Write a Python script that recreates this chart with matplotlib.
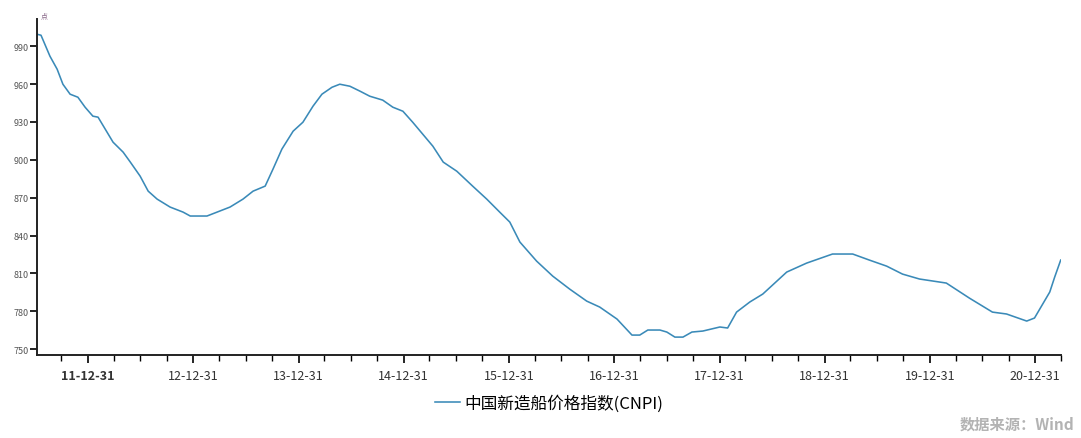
import matplotlib
matplotlib.use("Agg")
import matplotlib.pyplot as plt
import matplotlib.dates as mdates
import numpy as np
import pandas as pd

plt.rcParams['font.family'] = ['Noto Sans CJK SC', 'DejaVu Sans']

# CNPI readings taken off the reference chart
dates = [
    "2011-07-07", "2011-07-21", "2011-08-21", "2011-09-15", "2011-10-05", "2011-10-30",
    "2011-11-26", "2011-12-21", "2012-01-17", "2012-02-04", "2012-03-27", "2012-05-01",
    "2012-05-26", "2012-06-29", "2012-07-27", "2012-08-27", "2012-10-11", "2012-11-25",
    "2012-12-20", "2013-02-16", "2013-03-23", "2013-05-07", "2013-06-21", "2013-07-26",
    "2013-09-06", "2013-10-03", "2013-11-03", "2013-12-12", "2014-01-15", "2014-02-19",
    "2014-03-22", "2014-04-26", "2014-05-23", "2014-06-27", "2014-08-01", "2014-09-04",
    "2014-10-19", "2014-11-23", "2014-12-28", "2015-01-31", "2015-03-07", "2015-04-11",
    "2015-05-17", "2015-07-03", "2015-08-27", "2015-10-15", "2015-11-29", "2016-01-03",
    "2016-02-07", "2016-04-05", "2016-05-31", "2016-07-29", "2016-09-26", "2016-11-10",
    "2017-01-09", "2017-03-02", "2017-03-29", "2017-04-26", "2017-06-07", "2017-07-01",
    "2017-07-29", "2017-08-26", "2017-09-26", "2017-11-03", "2018-01-01", "2018-01-28",
    "2018-02-28", "2018-04-15", "2018-05-30", "2018-08-21", "2018-10-29", "2019-01-27",
    "2019-04-07", "2019-06-04", "2019-08-03", "2019-09-27", "2019-11-25", "2020-02-26",
    "2020-05-16", "2020-08-04", "2020-09-22", "2020-12-01", "2020-12-28", "2021-02-19",
    "2021-03-08", "2021-03-29",
]
cnpi = [
    999.5, 998.7, 982.1, 971.8, 959.9, 952.0,
    949.6, 941.7, 934.6, 933.8, 914.0, 906.1,
    898.2, 887.1, 875.2, 868.9, 862.6, 858.6,
    855.5, 855.5, 858.6, 862.6, 868.9, 875.2,
    879.2, 892.6, 908.5, 922.7, 929.8, 942.5,
    952.0, 957.5, 959.9, 958.3, 954.4, 950.4,
    947.3, 941.7, 938.5, 929.8, 920.3, 910.8,
    898.2, 891.0, 879.2, 868.9, 858.6, 850.7,
    834.9, 819.8, 807.9, 797.6, 788.1, 783.4,
    773.9, 761.2, 761.2, 765.2, 765.2, 763.6,
    759.6, 759.6, 763.6, 764.4, 767.6, 766.8,
    779.4, 787.4, 793.7, 811.1, 818.2, 825.4,
    825.4, 820.6, 815.8, 809.5, 805.6, 802.4,
    790.5, 779.4, 777.9, 772.3, 774.7, 795.3,
    807.1, 820.6,
]
yticks = [750, 780, 810, 840, 870, 900, 930, 960, 990]
series_name = "中国新造船价格指数(CNPI)"
source = "数据来源：Wind"

x = pd.to_datetime(dates)

fig = plt.figure(figsize=(10.81, 4.39), dpi=100)
ax = fig.add_axes([0.0342, 0.189, 0.9473, 0.765])

line, = ax.plot(x, cnpi, color="#3a8ab8", lw=1.15)

ax.set_xlim(pd.Timestamp("2011-07-07"), pd.Timestamp("2021-03-30"))
ax.set_ylim(745.4, 1011.4)

ax.set_yticks(yticks)
ax.set_yticklabels([str(v) for v in yticks], fontsize=6.5, color="#555555")

years = pd.date_range("2011-12-31", "2020-12-31", freq="YE")
ax.set_xticks(years)
ax.set_xticklabels([d.strftime("%y-%m-%d") for d in years], fontsize=9, color="#333333")
ax.get_xticklabels()[0].set_fontweight("bold")
ax.xaxis.set_minor_locator(mdates.MonthLocator(bymonth=[3, 6, 9], bymonthday=30))

for s in ["top", "right"]:
    ax.spines[s].set_visible(False)
for s in ["left", "bottom"]:
    ax.spines[s].set_linewidth(1.4)
    ax.spines[s].set_color("#222222")

ax.tick_params(axis="y", length=5, width=1.2, pad=1)
ax.tick_params(axis="x", which="major", length=6, width=1.2, pad=4)
ax.tick_params(axis="x", which="minor", length=4, width=1.0)

ax.text(0.004, 1.0, "点", transform=ax.transAxes, fontsize=5, color="#886688",
        va="bottom", ha="left")

fig.legend([line], [series_name], loc="center", bbox_to_anchor=(0.508, 0.08),
           frameon=False, fontsize=12, handlelength=1.5, handletextpad=0.3)

fig.text(0.994, 0.015, source, ha="right", va="bottom", fontsize=11,
         color="#b3b3b3", fontweight="bold")

fig.savefig("out.png", dpi=100)
